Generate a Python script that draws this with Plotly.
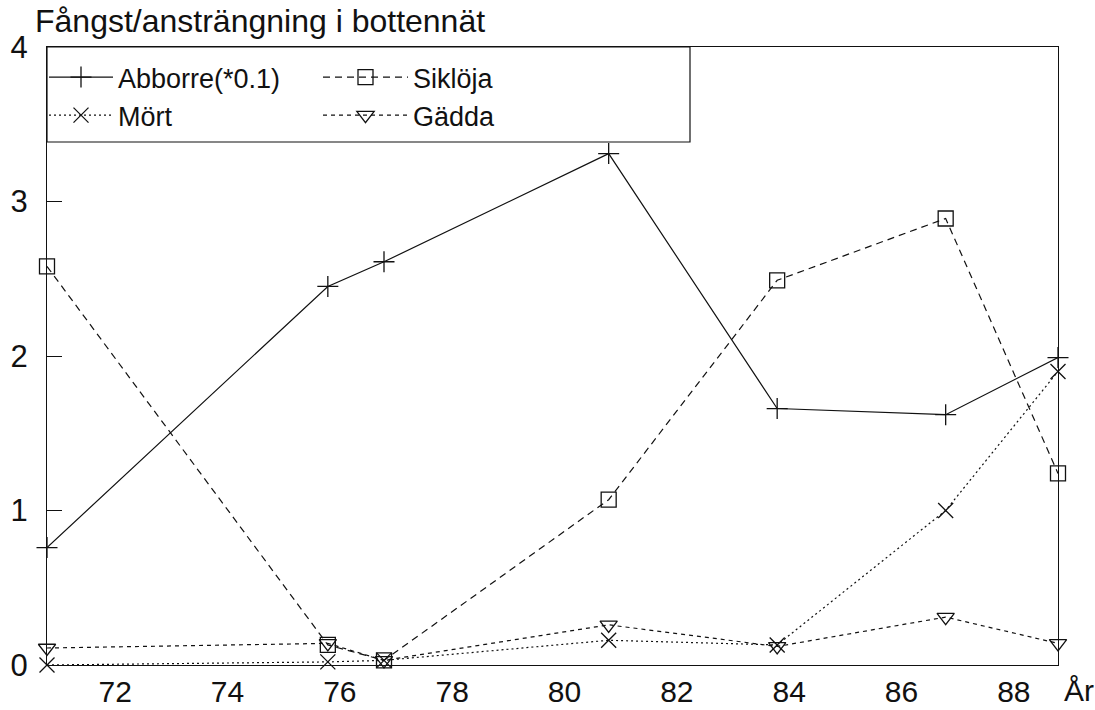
import plotly.graph_objects as go

years = [71, 76, 77, 81, 84, 87, 89]
abborre = [0.76, 2.45, 2.61, 3.31, 1.66, 1.62, 1.99]
sikloja = [2.58, 0.13, 0.03, 1.07, 2.49, 2.89, 1.24]
mort = [0.00, 0.02, 0.03, 0.16, 0.13, 1.00, 1.90]
gadda = [0.11, 0.14, 0.03, 0.26, 0.12, 0.31, 0.14]

x_ticks = [72, 74, 76, 78, 80, 82, 84, 86, 88]
y_ticks = [0, 1, 2, 3, 4]

FONT = "Liberation Sans"
BLACK = "#111111"

W, H = 1095, 710
# plot area in screen pixels: left 47, right 1058, top 47, bottom 665
ML, MT = 47, 47
MR, MB = W - 1058, H - 665
PW, PH = W - ML - MR, H - MT - MB


def px2paper_x(sx):
    return (sx - ML) / PW


def px2paper_y(sy):
    return (H - MB - sy) / PH


fig = go.Figure()

series = [
    ("Abborre(*0.1)", abborre, "cross-thin", "solid", "legend"),
    ("Mört", mort, "x-thin", "2px,3px", "legend"),
    ("Siklöja", sikloja, "square-open", "7px,5px", "legend2"),
    ("Gädda", gadda, "triangle-down-open", "4px,4px", "legend2"),
]

for name, vals, sym, dash, leg in series:
    fig.add_trace(go.Scatter(
        x=years, y=vals, name=name, mode="lines+markers",
        line=dict(color=BLACK, width=1.2, dash=dash),
        marker=dict(symbol=sym, size=15, color=BLACK,
                    line=dict(color=BLACK, width=1.3)),
        cliponaxis=False, legend=leg,
    ))

leg_common = dict(
    xanchor="left", yanchor="top",
    bgcolor="rgba(0,0,0,0)", borderwidth=0,
    font=dict(family=FONT, size=27, color=BLACK),
    tracegroupgap=0,
)

fig.update_layout(
    width=W, height=H,
    margin=dict(l=ML, r=MR, t=MT, b=MB, autoexpand=False),
    paper_bgcolor="white", plot_bgcolor="white",
    font=dict(family=FONT, color=BLACK, size=26),
    showlegend=True,
    legend=dict(x=px2paper_x(44), y=px2paper_y(53), itemwidth=64, **leg_common),
    legend2=dict(x=px2paper_x(318), y=px2paper_y(53), itemwidth=85, **leg_common),
    xaxis=dict(
        range=[71, 89], tickvals=x_ticks, ticktext=[str(v) for v in x_ticks],
        showgrid=False, zeroline=False, showline=True, linecolor=BLACK,
        linewidth=1.2, mirror=True, ticks="", ticklabelshift=12,
        ticklabelstandoff=0, automargin=False,
        tickfont=dict(family=FONT, size=30, color=BLACK),
    ),
    yaxis=dict(
        range=[0, 4], tickvals=y_ticks, ticktext=[str(v) for v in y_ticks],
        showgrid=False, zeroline=False, showline=True, linecolor=BLACK,
        linewidth=1.2, mirror=True, ticks="inside", ticklen=15,
        tickcolor=BLACK, tickwidth=1.2, ticklabelstandoff=12, automargin=False,
        tickfont=dict(family=FONT, size=31, color=BLACK),
    ),
    shapes=[dict(
        type="rect", xref="paper", yref="paper",
        x0=0, x1=px2paper_x(690), y0=px2paper_y(142), y1=1,
        line=dict(color=BLACK, width=1.2), fillcolor="rgba(0,0,0,0)",
        layer="above",
    )],
    annotations=[
        dict(text="Fångst/ansträngning i bottennät", xref="paper", yref="paper",
             x=px2paper_x(33), y=px2paper_y(21), xanchor="left", yanchor="middle",
             showarrow=False, font=dict(family=FONT, size=32, color=BLACK)),
        dict(text="År", xref="paper", yref="paper",
             x=px2paper_x(1079), y=px2paper_y(690), xanchor="center", yanchor="middle",
             showarrow=False, font=dict(family=FONT, size=30, color=BLACK)),
    ],
)

fig.write_html(
    "out.html",
    config={"displayModeBar": False},
    post_script="document.body.style.margin='0';document.body.style.overflow='hidden';",
)
